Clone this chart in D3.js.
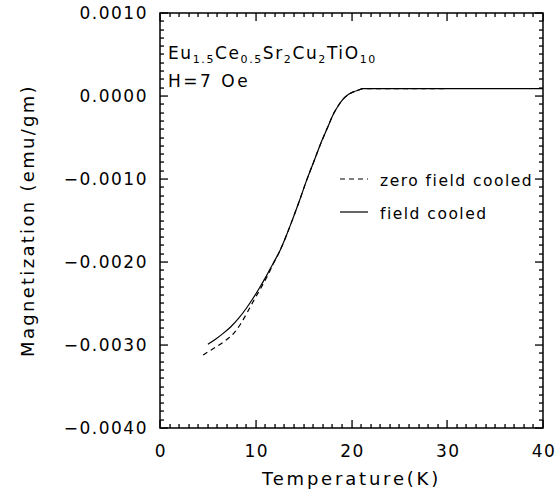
<!DOCTYPE html>
<html>
<head>
<meta charset="utf-8">
<script src="https://cdn.jsdelivr.net/npm/d3@7"></script>
</head>
<body style="margin:0">
<div id="chart"></div>
<script>
// field cooled (solid)
var tempFC = [5.0, 5.8, 6.6, 7.4, 8.2, 9.0, 9.7, 10.4, 11.1, 11.8, 12.5, 13.2, 13.9, 14.6, 15.3, 16.1, 16.9,
              17.5, 18.1, 18.6, 19.1, 19.7, 20.2, 20.7, 21.2, 22.0, 25.0, 30.0, 35.0, 40.0];
var magFC = [-0.00299, -0.00293, -0.00286, -0.00278, -0.00268, -0.00256, -0.00244, -0.00231, -0.00217,
             -0.00202, -0.00187, -0.00168, -0.00147, -0.00125, -0.00102, -0.00078, -0.00054, -0.00038,
             -0.00022, -0.00012, -0.00004, 0.00002, 0.00005, 0.00007, 0.00009, 0.00009, 0.00009, 0.00009,
             0.00009, 0.00009];
// zero field cooled (dashed)
var tempZFC = [4.5, 5.2, 5.9, 6.8, 7.7, 8.4, 9.1, 9.9, 10.6, 11.3, 11.8, 12.5, 13.2, 13.9, 14.6, 15.3, 16.1,
               16.9, 17.5, 18.1, 18.6, 19.1, 19.7, 20.2, 20.7, 21.2, 22.0, 25.0, 30.0];
var magZFC = [-0.00312, -0.00307, -0.00302, -0.00295, -0.00286, -0.00275, -0.00261, -0.00244, -0.00230,
              -0.00215, -0.00203, -0.00187, -0.00168, -0.00147, -0.00125, -0.00102, -0.00078, -0.00054,
              -0.00038, -0.00022, -0.00012, -0.00004, 0.00002, 0.00005, 0.00007, 0.00009, 0.00009, 0.00009,
              0.00009];

var xTicks = [0, 10, 20, 30, 40];
var yTicks = [-0.0040, -0.0030, -0.0020, -0.0010, 0.0000, 0.0010];
var yTickLabels = ["\u22120.0040", "\u22120.0030", "\u22120.0020", "\u22120.0010", "0.0000", "0.0010"];
var xMinorTicks = d3.range(0, 41, 1);           // every 1 K
var yMinorTicks = d3.range(-40, 11, 1);         // every 0.0001 (in units of 1e-4)

var width = 558, height = 491;
var margin = {top: 13, right: 15, bottom: 63, left: 160};

var svg = d3.select("#chart").append("svg")
    .attr("width", width).attr("height", height)
    .attr("font-family", "DejaVu Sans, sans-serif");

var x = d3.scaleLinear().domain([0, 40]).range([margin.left, width - margin.right]);
var y = d3.scaleLinear().domain([-0.004, 0.001]).range([height - margin.bottom, margin.top]);

var left = margin.left, right = width - margin.right;
var bottom = height - margin.bottom, top_ = margin.top;

// frame
svg.append("path")
    .attr("d", "M" + left + "," + top_ + "H" + right + "V" + bottom + "H" + left + "Z")
    .attr("fill", "none").attr("stroke", "#000").attr("stroke-width", 1.5);

// inward ticks as small filled rects (majors every 10th)
var tickG = svg.append("g").attr("fill", "#000");
tickG.selectAll("rect.xb").data(xMinorTicks).enter().append("rect")
    .attr("x", function(d) { return Math.round(x(d)) - 0.6; })
    .attr("y", function(d) { return bottom - (d % 10 === 0 ? 8 : 4); })
    .attr("width", 1.3)
    .attr("height", function(d) { return d % 10 === 0 ? 8 : 4; });
tickG.selectAll("rect.xt").data(xMinorTicks).enter().append("rect")
    .attr("x", function(d) { return Math.round(x(d)) - 0.6; })
    .attr("y", top_)
    .attr("width", 1.3)
    .attr("height", function(d) { return d % 10 === 0 ? 8 : 4; });
tickG.selectAll("rect.yl").data(yMinorTicks).enter().append("rect")
    .attr("x", left)
    .attr("y", function(d) { return Math.round(y(d / 10000)) - 0.6; })
    .attr("width", function(d) { return d % 10 === 0 ? 8 : 4; })
    .attr("height", 1.3);
tickG.selectAll("rect.yr").data(yMinorTicks).enter().append("rect")
    .attr("x", function(d) { return right - (d % 10 === 0 ? 8 : 4); })
    .attr("y", function(d) { return Math.round(y(d / 10000)) - 0.6; })
    .attr("width", function(d) { return d % 10 === 0 ? 8 : 4; })
    .attr("height", 1.3);

// tick labels
svg.append("g").selectAll("text").data(xTicks).enter().append("text")
    .attr("x", function(d) { return x(d) + 1; })
    .attr("y", bottom + 29)
    .attr("text-anchor", "middle")
    .attr("font-size", 17).attr("letter-spacing", 1.5)
    .text(function(d) { return d; });

svg.append("g").selectAll("text").data(yTicks).enter().append("text")
    .attr("x", left - 12)
    .attr("y", function(d) { return y(d) + 6; })
    .attr("text-anchor", "end")
    .attr("font-size", 17).attr("letter-spacing", 1.5)
    .text(function(d, i) { return yTickLabels[i]; });

// axis titles
svg.append("text")
    .attr("x", (left + right) / 2).attr("y", 485)
    .attr("text-anchor", "middle")
    .attr("font-size", 18).attr("letter-spacing", 2.8)
    .text("Temperature(K)");

svg.append("text")
    .attr("transform", "translate(34," + ((bottom + top_) / 2) + ") rotate(-90)")
    .attr("text-anchor", "middle")
    .attr("font-size", 18).attr("letter-spacing", 2.3)
    .text("Magnetization (emu/gm)");

// curves
var lineGen = d3.line()
    .x(function(d) { return x(d[0]); })
    .y(function(d) { return y(d[1]); })
    .curve(d3.curveMonotoneX);

svg.append("path")
    .datum(d3.zip(tempZFC, magZFC))
    .attr("d", lineGen)
    .attr("fill", "none").attr("stroke", "#000").attr("stroke-width", 1.2)
    .attr("stroke-dasharray", "5,4");

svg.append("path")
    .datum(d3.zip(tempFC, magFC))
    .attr("d", lineGen)
    .attr("fill", "none").attr("stroke", "#000").attr("stroke-width", 1.2);

// annotation
var ann = svg.append("text").attr("x", 168).attr("y", 59)
    .attr("font-size", 17).attr("letter-spacing", 1.6);
var parts = [["Eu", 0], ["1.5", 1], ["Ce", 0], ["0.5", 1], ["Sr", 0], ["2", 1], ["Cu", 0], ["2", 1], ["TiO", 0], ["10", 1]];
parts.forEach(function(p, i) {
    var prev = i > 0 ? parts[i - 1][1] : 0;
    ann.append("tspan")
        .attr("dy", p[1] === prev ? 0 : (p[1] ? 4 : -4))
        .attr("font-size", p[1] ? 11 : 17)
        .text(p[0]);
});

svg.append("text").attr("x", 168).attr("y", 87)
    .attr("font-size", 17).attr("letter-spacing", 2.5)
    .text("H=7 Oe");

// legend
var legendItems = [["zero field cooled", "5,4", 179], ["field cooled", "none", 212]];
legendItems.forEach(function(l) {
    svg.append("path")
        .attr("d", "M340," + l[2] + "H368")
        .attr("fill", "none").attr("stroke", "#000").attr("stroke-width", 1.2)
        .attr("stroke-dasharray", l[1]);
    svg.append("text")
        .attr("x", 380).attr("y", l[2] + 7)
        .attr("font-size", 15.5).attr("letter-spacing", 1.5)
        .text(l[0]);
});
</script>
</body>
</html>
